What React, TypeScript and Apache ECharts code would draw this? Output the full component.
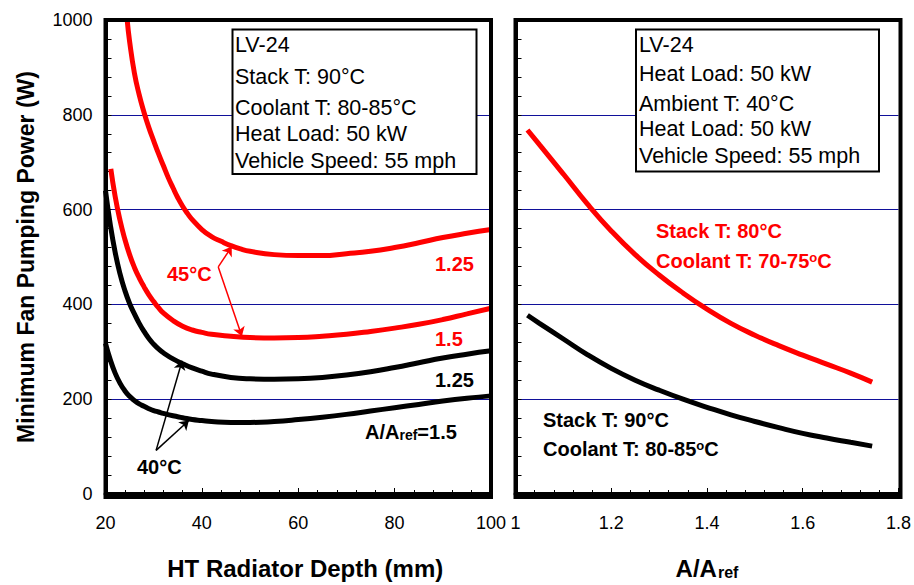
import React, { useEffect, useRef } from 'react';
import * as echarts from 'echarts';

const FONT = '"Liberation Sans", Arial, Helvetica, sans-serif';

// ---- Left panel: HT radiator depth (mm) vs minimum fan pumping power (W)
const red125X = [24.5, 25, 26, 27, 28, 29, 30, 31, 32, 33, 34, 35, 36, 37, 38, 40, 42, 44, 46, 48, 50, 55, 60, 65, 70, 75, 80, 85, 90, 95, 100];
const red125Y = [1000, 955, 888, 842, 805, 773, 745, 718, 693, 668, 646, 625, 607, 592, 579, 558, 543, 533, 524, 517, 512, 505, 503, 503, 507, 512, 520, 530, 541, 550, 558];

const red15X = [21.1, 22, 23, 24, 25, 26, 27, 28, 29, 30, 31, 32, 34, 36, 38, 40, 42, 46, 50, 55, 60, 65, 70, 75, 80, 85, 90, 95, 100];
const red15Y = [686, 628, 578, 538, 505, 478, 456, 437, 420, 406, 393, 382, 366, 354, 346, 341, 337, 333, 330, 329, 330, 333, 337, 343, 350, 358, 368, 380, 392];

const black125X = [20, 21, 22, 23, 24, 25, 26, 27, 28, 29, 30, 31, 32, 34, 36, 38, 40, 42, 46, 50, 55, 60, 65, 70, 75, 80, 85, 90, 95, 100];
const black125Y = [640, 568, 510, 465, 430, 402, 380, 360, 343, 328, 316, 306, 298, 285, 275, 266, 259, 253, 246, 243, 242, 243, 246, 251, 258, 267, 277, 287, 295, 302];

const black15X = [20, 21, 22, 23, 24, 25, 26, 27, 28, 29, 30, 31, 32, 34, 36, 38, 40, 42, 46, 50, 55, 60, 65, 70, 75, 80, 85, 90, 95, 100];
const black15Y = [318, 283, 255, 234, 218, 206, 197, 190, 185, 180, 176, 173, 170, 165, 161, 157, 155, 153, 151, 151, 153, 157, 162, 168, 175, 182, 189, 196, 202, 207];

// ---- Right panel: A/Aref vs minimum fan pumping power (W)
const ratioX = [1.025, 1.05, 1.1, 1.15, 1.2, 1.25, 1.3, 1.35, 1.4, 1.45, 1.5, 1.55, 1.6, 1.65, 1.7, 1.745];
const stack80Y = [768, 737, 675, 612, 555, 505, 462, 424, 390, 360, 335, 313, 293, 274, 255, 236];
const stack90Y = [377, 360, 327, 294, 265, 240, 219, 200, 183, 167, 153, 140, 128, 118, 109, 101];

// annotation arrows (data coordinates: [from, to])
const arrows45 = [
  [[43.4, 479], [46.2, 522]],
  [[43.4, 479], [48.3, 333]],
];
const arrows40 = [
  [[30.5, 92], [35.9, 281]],
  [[30.5, 92], [37.3, 155]],
];

const leftBoxLines = ['LV-24', 'Stack T: 90°C', 'Coolant T: 80-85°C', 'Heat Load: 50 kW', 'Vehicle Speed: 55 mph'];
const rightBoxLines = ['LV-24', 'Heat Load: 50 kW', 'Ambient T: 40°C', 'Heat Load: 50 kW', 'Vehicle Speed: 55 mph'];

const zip = (xs: number[], ys: number[]) => xs.map((x, i) => [x, ys[i]]);

const GRID_COLOR = '#10109a';

const GRIDS = [
  { left: 105.5, top: 20, width: 385.5, height: 477 },
  { left: 515.5, top: 20, width: 385, height: 477 },
];

function yAxis(gridIndex: number, showLabels: boolean, withName: boolean) {
  return {
    type: 'value',
    gridIndex,
    min: 0,
    max: 1000,
    interval: 200,
    name: withName ? 'Minimum Fan Pumping Power (W)' : '',
    nameLocation: 'middle',
    nameGap: 68,
    nameTextStyle: { fontSize: 23, fontWeight: 'bold', color: '#000', fontFamily: FONT },
    axisLine: { show: true, lineStyle: { color: '#000', width: 4 } },
    axisTick: { show: true, inside: true, length: 6, lineStyle: { color: '#000', width: 1 } },
    minorTick: { show: true, splitNumber: 5, length: 6, lineStyle: { color: '#000', width: 1 } },
    splitLine: { show: true, lineStyle: { color: GRID_COLOR, width: 1 } },
    axisLabel: {
      show: showLabels,
      fontSize: 18,
      color: '#000',
      margin: 13,
      fontFamily: FONT,
      formatter: (v: number) => String(v),
    },
  };
}

function xAxisBase(gridIndex: number, min: number, max: number, interval: number) {
  return {
    type: 'value',
    gridIndex,
    min,
    max,
    interval,
    nameLocation: 'middle',
    nameGap: 62,
    axisLine: { show: true, lineStyle: { color: '#000', width: 4 } },
    axisTick: { show: true, inside: true, length: 6, lineStyle: { color: '#000', width: 1 } },
    minorTick: { show: true, splitNumber: 5, length: 4, lineStyle: { color: '#000', width: 1 } },
    splitLine: { show: false },
    axisLabel: {
      fontSize: 18,
      color: '#000',
      margin: 20,
      fontFamily: FONT,
      formatter: (v: number) => String(parseFloat(v.toFixed(2))),
    },
  };
}

function arrowLine(list: number[][][], color: string) {
  return {
    silent: true,
    symbol: ['none', 'arrow'],
    symbolSize: 9,
    label: { show: false },
    lineStyle: { color, width: 1.5, type: 'solid' },
    emphasis: { disabled: true },
    data: list.map(([a, b]) => [{ coord: a }, { coord: b }]),
  };
}

function lineSeries(name: string, xi: number, data: number[][], color: string, extra: any = {}) {
  return {
    name,
    type: 'line',
    xAxisIndex: xi,
    yAxisIndex: xi,
    data,
    smooth: 0.5,
    symbol: 'none',
    lineStyle: { color, width: 5 },
    itemStyle: { color },
    ...extra,
  };
}

function boxTexts(lines: string[], left: number, ys: number[]) {
  return lines.map((t, i) => ({
    type: 'text',
    x: left,
    y: ys[i],
    z: 101,
    style: { text: t, fontSize: 21.5, fontFamily: FONT, fill: '#000', align: 'left', verticalAlign: 'middle' },
  }));
}

function label(text: string, x: number, y: number, color: string, rich?: any) {
  return {
    type: 'text',
    x,
    y,
    z: 101,
    style: {
      text,
      fontSize: 20,
      fontWeight: 'bold',
      fontFamily: FONT,
      fill: color,
      align: 'left',
      verticalAlign: 'middle',
      rich,
    },
  };
}

const richSup = (color: string) => ({
  n: { fontSize: 20, fontWeight: 'bold', fontFamily: FONT, fill: color },
  s: { fontSize: 13, fontWeight: 'bold', fontFamily: FONT, fill: color, verticalAlign: 'top' },
});
const richSub = (color: string) => ({
  n: { fontSize: 20, fontWeight: 'bold', fontFamily: FONT, fill: color },
  s: { fontSize: 14, fontWeight: 'bold', fontFamily: FONT, fill: color, verticalAlign: 'bottom', padding: [6, 0, 0, 0] },
});

const frames = GRIDS.map((g) => ({
  type: 'rect',
  z: 90,
  silent: true,
  shape: { x: g.left, y: g.top, width: g.width, height: g.height },
  style: { fill: 'none', stroke: '#000', lineWidth: 4 },
}));

const option: any = {
  animation: false,
  backgroundColor: '#fff',
  textStyle: { fontFamily: FONT },
  grid: GRIDS.map((g) => ({ ...g, show: false })),
  xAxis: [
    {
      ...xAxisBase(0, 20, 100, 20),
      name: 'HT Radiator Depth (mm)',
      nameTextStyle: { fontSize: 24, fontWeight: 'bold', color: '#000', fontFamily: FONT, padding: [0, 0, 0, 14] },
    },
    {
      ...xAxisBase(1, 1, 1.8, 0.2),
      name: '{a|A/A}{s|ref}',
      nameTextStyle: {
        color: '#000',
        fontFamily: FONT,
        rich: {
          a: { fontSize: 24, fontWeight: 'bold', color: '#000', fontFamily: FONT },
          s: { fontSize: 16, fontWeight: 'bold', color: '#000', fontFamily: FONT, verticalAlign: 'bottom', padding: [8, 0, 0, 1] },
        },
      },
    },
  ],
  yAxis: [yAxis(0, true, true), yAxis(1, false, false)],
  series: [
    lineSeries('45°C A/Aref=1.25', 0, zip(red125X, red125Y), '#ff0000', { markLine: arrowLine(arrows45, '#ff0000') }),
    lineSeries('45°C A/Aref=1.5', 0, zip(red15X, red15Y), '#ff0000'),
    lineSeries('40°C A/Aref=1.25', 0, zip(black125X, black125Y), '#000000', { markLine: arrowLine(arrows40, '#000000') }),
    lineSeries('40°C A/Aref=1.5', 0, zip(black15X, black15Y), '#000000'),
    lineSeries('Stack T 80°C', 1, zip(ratioX, stack80Y), '#ff0000'),
    lineSeries('Stack T 90°C', 1, zip(ratioX, stack90Y), '#000000'),
  ],
  graphic: [
    ...frames,
    { type: 'rect', z: 100, shape: { x: 232.5, y: 29.5, width: 244, height: 144.5 }, style: { fill: '#fff', stroke: '#000', lineWidth: 2 } },
    ...boxTexts(leftBoxLines, 235, [45, 77, 108, 134, 161]),
    { type: 'rect', z: 100, shape: { x: 636, y: 29.5, width: 243, height: 142 }, style: { fill: '#fff', stroke: '#000', lineWidth: 2 } },
    ...boxTexts(rightBoxLines, 639, [45, 74, 104, 129, 156]),
    label('1.25', 435, 264, '#ff0000'),
    label('1.5', 435, 339, '#ff0000'),
    label('1.25', 435, 380, '#000000'),
    label('{n|A/A}{s|ref}{n|=1.5}', 365, 432, '#000000', richSub('#000000')),
    label('45°C', 167, 274, '#ff0000'),
    label('40°C', 137, 467, '#000000'),
    label('Stack T: 80°C', 656, 231, '#ff0000'),
    label('{n|Coolant T: 70-75}{s|o}{n|C}', 656, 261, '#ff0000', richSup('#ff0000')),
    label('Stack T: 90°C', 543, 420, '#000000'),
    label('{n|Coolant T: 80-85}{s|o}{n|C}', 543, 449, '#000000', richSup('#000000')),
  ],
};

export default function App() {
  const ref = useRef<HTMLDivElement>(null);
  useEffect(() => {
    document.body.style.margin = '0';
    const chart = echarts.init(ref.current as HTMLDivElement, null, { renderer: 'svg' });
    chart.setOption(option);
    return () => chart.dispose();
  }, []);
  return <div ref={ref} style={{ width: 914, height: 585 }} />;
}
